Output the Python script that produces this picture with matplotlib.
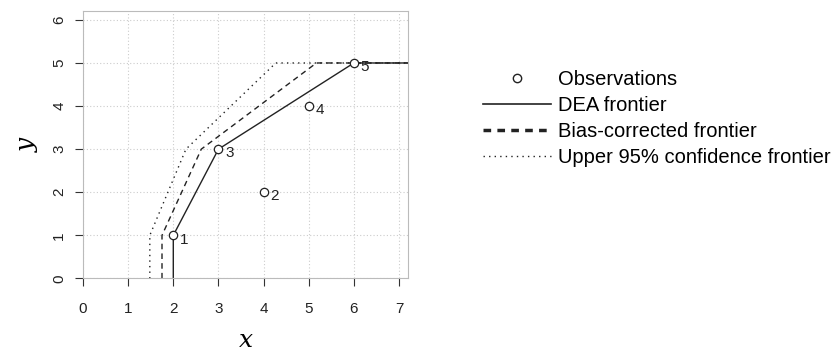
import matplotlib
matplotlib.use("Agg")
import matplotlib.pyplot as plt
from matplotlib.lines import Line2D

plt.rcParams['font.family'] = ['Liberation Sans', 'DejaVu Sans']

# observations
obs_x = [2, 4, 3, 5, 6]
obs_y = [1, 2, 3, 4, 5]
obs_lab = ["1", "2", "3", "4", "5"]

# frontiers (x, y vertices)
dea_x = [2, 2, 3, 6, 7.2]
dea_y = [0, 1, 3, 5, 5]
bias_x = [1.75, 1.75, 2.62, 5.17, 7.2]
bias_y = [0, 1, 3, 5, 5]
upper_x = [1.48, 1.48, 2.28, 4.27, 7.2]
upper_y = [0, 1, 3, 5, 5]

xticks = [0, 1, 2, 3, 4, 5, 6, 7]
yticks = [0, 1, 2, 3, 4, 5, 6]


def main():
    fig = plt.figure(figsize=(8.4, 3.52), dpi=100)
    ax = fig.add_axes([0.0988, 0.209, 0.387, 0.759])

    ax.plot(upper_x, upper_y, color="#222222", lw=1.0, ls=(0, (1, 3)))
    ax.plot(bias_x, bias_y, color="#222222", lw=1.0, ls=(0, (4, 3)))
    ax.plot(dea_x, dea_y, color="#222222", lw=1.0, ls="-")
    ax.plot(obs_x, obs_y, "o", mfc="white", mec="#222222", ms=6, mew=0.9)
    for xx, yy, lab in zip(obs_x, obs_y, obs_lab):
        ax.annotate(lab, (xx, yy), xytext=(5, -3), textcoords="offset points",
                    ha="left", va="center", fontsize=11, color="#222222")

    ax.set_xlim(0, 7.2)
    ax.set_ylim(0, 6.2)
    ax.set_xticks(xticks)
    ax.set_yticks(yticks)
    ax.grid(True, color="#cccccc", ls=(0, (1, 2)), lw=0.8)
    ax.set_axisbelow(True)
    for s in ax.spines.values():
        s.set_color("#bbbbbb")
        s.set_linewidth(0.8)
    ax.tick_params(axis="both", direction="out", length=6, width=0.8,
                   color="#333333", labelsize=11, labelcolor="#222222")
    ax.tick_params(axis="x", pad=11)
    ax.tick_params(axis="y", pad=6)
    for lab in ax.get_yticklabels():
        lab.set_rotation(90)
        lab.set_va("center")

    ax.set_xlabel("x", fontsize=18, family="DejaVu Serif", style="italic",
                  labelpad=9)
    ax.set_ylabel("y", fontsize=18, family="DejaVu Serif", style="italic",
                  labelpad=10)

    handles = [
        Line2D([], [], ls="none", marker="o", mfc="white", mec="#222222", ms=6),
        Line2D([], [], color="#222222", lw=1.2, ls="-"),
        Line2D([], [], color="#222222", lw=2.5, ls=(0, (2.2, 1.8))),
        Line2D([], [], color="#222222", lw=1.0, ls=(0, (1, 3))),
    ]
    labels = ["Observations", "DEA frontier", "Bias-corrected frontier",
              "Upper 95% confidence frontier"]
    fig.legend(handles, labels, loc="upper left",
               bbox_to_anchor=(483 / 840, 1 - 70 / 352), frameon=False,
               fontsize=14.5, handlelength=3.4, handletextpad=0.33,
               labelspacing=0.35, borderpad=0, borderaxespad=0)

    fig.savefig("out.png", dpi=100)


if __name__ == "__main__":
    main()
